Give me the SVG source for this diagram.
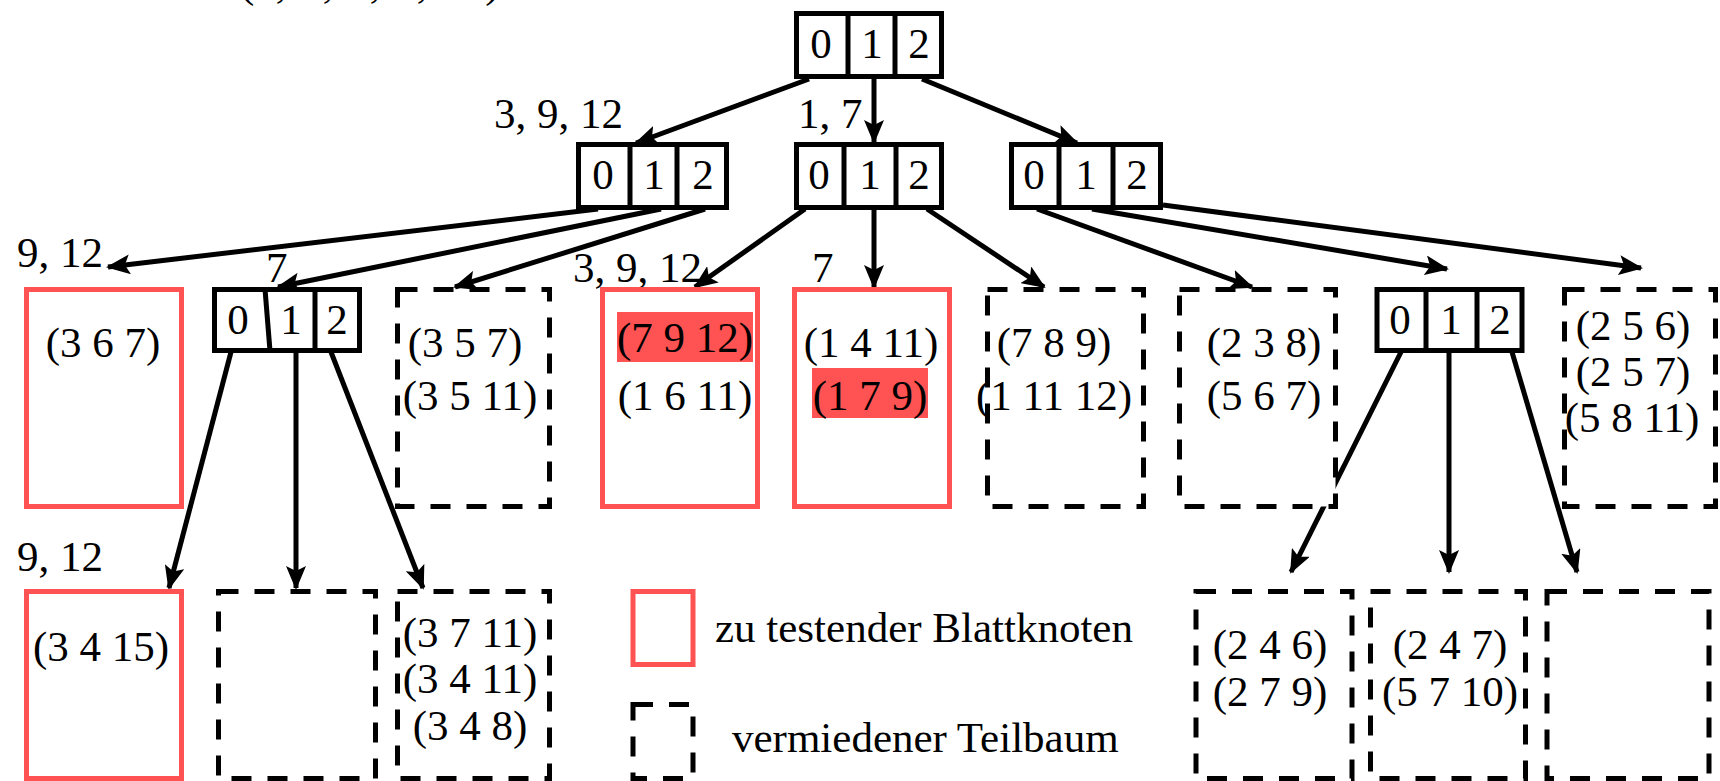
<svg xmlns="http://www.w3.org/2000/svg" width="1720" height="781" viewBox="0 0 1720 781">
<style>
text{font-family:"Liberation Serif","Times New Roman",serif;font-size:43px;fill:#000}
.c{text-anchor:middle}
.nb{fill:#fff;stroke:#000;stroke-width:5}
.dv{stroke:#000;stroke-width:5}
.red{fill:#fff;stroke:#ff5252;stroke-width:5}
.dash{fill:#fff;stroke:#000;stroke-width:5;stroke-dasharray:20 16}
.hl{fill:#ff5252}
.ar{stroke:#000;stroke-width:5;fill:none;marker-end:url(#ah)}
</style>
<defs>
<marker id="ah" markerUnits="userSpaceOnUse" markerWidth="24" markerHeight="20" refX="22" refY="10" orient="auto">
<path d="M0,0 L24,10 L0,20 L5,10 Z" fill="#000"/>
</marker>
</defs>
<rect width="1720" height="781" fill="#fff"/>
<text x="240" y="-3" word-spacing="4">(1, 3, 7, 9, 12)</text>
<g id="connectors">
<line class="ar" x1="809" y1="79" x2="636" y2="143"/>
<line class="ar" x1="874" y1="79" x2="874" y2="142"/>
<line class="ar" x1="922" y1="79" x2="1077" y2="143"/>
<line class="ar" x1="598" y1="209" x2="108" y2="267"/>
<line class="ar" x1="661" y1="209" x2="278" y2="287"/>
<line class="ar" x1="705" y1="209" x2="455" y2="287"/>
<line class="ar" x1="805" y1="209" x2="695" y2="287"/>
<line class="ar" x1="874" y1="209" x2="874" y2="287"/>
<line class="ar" x1="927" y1="209" x2="1044" y2="287"/>
<line class="ar" x1="1037" y1="209" x2="1252" y2="287"/>
<line class="ar" x1="1092" y1="209" x2="1447" y2="269"/>
<line class="ar" x1="1163" y1="205" x2="1641" y2="268"/>
<line class="ar" x1="231" y1="352" x2="169" y2="588"/>
<line class="ar" x1="296" y1="352" x2="296" y2="588"/>
<line class="ar" x1="331" y1="352" x2="423" y2="588"/>
<line class="ar" x1="1401" y1="352" x2="1291" y2="572"/>
<line class="ar" x1="1449" y1="352" x2="1449" y2="572"/>
<line class="ar" x1="1512" y1="352" x2="1577" y2="572"/>
</g>
<g id="labels">
<text x="494" y="128">3, 9, 12</text>
<text x="798" y="128">1, 7</text>
<text x="17" y="267">9, 12</text>
<text x="266" y="282">7</text>
<text x="573" y="282">3, 9, 12</text>
<text x="812" y="282">7</text>
<text x="17" y="571">9, 12</text>
</g>
<g id="root">
<rect class="nb" x="796.5" y="13.5" width="145" height="63"/>
<line class="dv" x1="848" y1="13" x2="848" y2="77"/>
<line class="dv" x1="895" y1="13" x2="895" y2="77"/>
<text class="c" x="821" y="58">0</text><text class="c" x="872" y="58">1</text><text class="c" x="919" y="58">2</text>
</g>
<g id="nodeA">
<rect class="nb" x="578.5" y="144.5" width="148" height="63"/>
<line class="dv" x1="630" y1="144" x2="630" y2="208"/>
<line class="dv" x1="677" y1="144" x2="677" y2="208"/>
<text class="c" x="603" y="189">0</text><text class="c" x="654" y="189">1</text><text class="c" x="703" y="189">2</text>
</g>
<g id="nodeB">
<rect class="nb" x="796.5" y="144.5" width="145" height="63"/>
<line class="dv" x1="844" y1="144" x2="844" y2="208"/>
<line class="dv" x1="896" y1="144" x2="896" y2="208"/>
<text class="c" x="819" y="189">0</text><text class="c" x="870" y="189">1</text><text class="c" x="919" y="189">2</text>
</g>
<g id="nodeC">
<rect class="nb" x="1011.5" y="144.5" width="149" height="63"/>
<line class="dv" x1="1059" y1="144" x2="1059" y2="208"/>
<line class="dv" x1="1113" y1="144" x2="1113" y2="208"/>
<text class="c" x="1034" y="189">0</text><text class="c" x="1086" y="189">1</text><text class="c" x="1137" y="189">2</text>
</g>
<g id="nodeD">
<rect class="nb" x="214.5" y="289.5" width="145" height="61"/>
<line class="dv" x1="265" y1="289" x2="270" y2="351"/>
<line class="dv" x1="315" y1="289" x2="315" y2="351"/>
<text class="c" x="238" y="334">0</text><text class="c" x="291" y="334">1</text><text class="c" x="337" y="334">2</text>
</g>
<g id="nodeE">
<rect class="nb" x="1377" y="289.5" width="145" height="61"/>
<line class="dv" x1="1426" y1="289" x2="1426" y2="351"/>
<line class="dv" x1="1477" y1="289" x2="1477" y2="351"/>
<text class="c" x="1400" y="334">0</text><text class="c" x="1451" y="334">1</text><text class="c" x="1500" y="334">2</text>
</g>
<g id="leafR1">
<rect class="red" x="26.5" y="289.5" width="155" height="217"/>
<text class="c" x="103" y="357">(3 6 7)</text>
</g>
<g id="leafDS1">
<rect class="dash" x="397.5" y="289.5" width="152" height="217"/>
<text class="c" x="465" y="357">(3 5 7)</text>
<text class="c" x="470" y="410">(3 5 11)</text>
</g>
<g id="leafR2">
<rect class="red" x="602.5" y="289.5" width="155" height="217"/>
<rect class="hl" x="617" y="312" width="136" height="50"/>
<text class="c" x="685" y="352">(7 9 12)</text>
<text class="c" x="685" y="410">(1 6 11)</text>
</g>
<g id="leafR3">
<rect class="red" x="794.5" y="289.5" width="155" height="217"/>
<rect class="hl" x="812" y="368" width="116" height="50"/>
<text class="c" x="871" y="357">(1 4 11)</text>
<text class="c" x="870" y="410">(1 7 9)</text>
</g>
<g id="leafDS2">
<rect class="dash" x="987.5" y="289.5" width="156" height="217"/>
<text class="c" x="1054" y="357">(7 8 9)</text>
<text class="c" x="1054" y="410">(1 11 12)</text>
</g>
<g id="leafDS3">
<rect class="dash" x="1179.5" y="289.5" width="156" height="217"/>
<text class="c" x="1264" y="357">(2 3 8)</text>
<text class="c" x="1264" y="410">(5 6 7)</text>
</g>
<g id="leafDS4">
<rect class="dash" x="1564.5" y="289.5" width="151" height="217"/>
<text class="c" x="1633" y="340">(2 5 6)</text>
<text class="c" x="1633" y="386">(2 5 7)</text>
<text class="c" x="1632" y="432">(5 8 11)</text>
</g>
<g id="leafR4">
<rect class="red" x="26.5" y="591.5" width="155" height="187"/>
<text class="c" x="101" y="661">(3 4 15)</text>
</g>
<g id="leafDS5">
<rect class="dash" x="218.5" y="591.5" width="157" height="187"/>
</g>
<g id="leafDS6">
<rect class="dash" x="397.5" y="591.5" width="152" height="187"/>
<text class="c" x="470" y="647">(3 7 11)</text>
<text class="c" x="470" y="693">(3 4 11)</text>
<text class="c" x="470" y="740">(3 4 8)</text>
</g>
<g id="leafDS7">
<rect class="dash" x="1196" y="591.5" width="156" height="187"/>
<text class="c" x="1270" y="659">(2 4 6)</text>
<text class="c" x="1270" y="706">(2 7 9)</text>
</g>
<g id="leafDS8">
<rect class="dash" x="1370.5" y="591.5" width="155" height="187"/>
<text class="c" x="1450" y="659">(2 4 7)</text>
<text class="c" x="1450" y="706">(5 7 10)</text>
</g>
<g id="leafDS9">
<rect class="dash" x="1547" y="591.5" width="162" height="187"/>
</g>
<g id="legend">
<rect class="red" x="633" y="591.5" width="60" height="73"/>
<text x="715" y="642">zu testender Blattknoten</text>
<rect class="dash" x="633" y="704.5" width="60" height="74"/>
<text x="732" y="752">vermiedener Teilbaum</text>
</g>
</svg>
